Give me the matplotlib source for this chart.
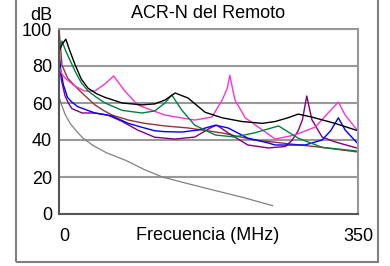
import matplotlib
matplotlib.use('Agg')
import matplotlib.pyplot as plt
from matplotlib.patches import Rectangle

plt.rcParams['font.family'] = ['Liberation Sans', 'DejaVu Sans']

# Datos (frecuencia en MHz, ACR-N en dB)
f_negro = [1, 4, 8, 12, 19, 26, 34, 44, 54, 74, 97, 112, 124, 136, 151, 171, 191, 214, 238, 253, 268, 280, 296,
           323, 350]
db_negro = [89, 92, 94.5, 89, 80.5, 73, 68, 65, 63, 60, 59, 59.5, 61.6, 65.4, 62.7, 55, 52, 50, 49, 50, 52, 54,
            52.4, 49, 45]

f_verde = [0, 3.5, 8, 19, 26, 34, 44, 54, 74, 97, 112, 124, 132, 144, 159, 183, 206, 230, 257, 280, 308, 350]
db_verde = [88, 93.5, 88, 77, 71, 66.5, 63, 60, 56, 54.6, 55.7, 60, 64.3, 56, 48, 42.7, 41.6, 44, 47.6, 41, 36, 34]

f_rosa = [0, 3, 7, 19, 30, 42, 53, 64, 77, 92, 112, 124, 136, 159, 179, 191, 197, 200, 203, 206, 218, 241, 253,
          276, 300, 315, 327, 335, 347, 350]
db_rosa = [80, 76, 73.5, 69, 66.5, 66.5, 70, 74.6, 66.5, 59, 55.5, 53.5, 52.5, 50.8, 52.4, 61.6, 68, 75, 68, 61.6,
           52, 44.5, 40.5, 42.7, 47, 54.6, 60.5, 53.5, 46.5, 45]

f_azul = [0, 2, 5, 10, 15, 22, 42, 62, 81, 100, 112, 124, 144, 163, 183, 198, 221, 245, 253, 288, 308, 318, 327,
          335, 349]
db_azul = [88, 78, 70, 63, 60.5, 58, 54.6, 53, 49, 46.5, 45, 44.5, 44.3, 45.4, 48, 46.5, 41, 38.4, 37.3, 37.3, 40,
           45, 52, 45.4, 38.4]

f_morado = [0, 3, 7, 11, 15, 27, 42, 57, 74, 92, 112, 136, 159, 179, 185, 198, 221, 245, 265, 273, 280, 285, 290,
            296, 308, 323, 350]
db_morado = [82, 72, 64, 60, 57, 54.6, 54.6, 53.5, 50, 45.4, 41.5, 40.5, 41.6, 47, 48, 43.8, 37.3, 35.7, 36.5, 40,
             45, 51, 63.8, 51, 41.6, 39, 35.5]

f_cafe = [0, 3.5, 10, 18, 27, 42, 52, 62, 81, 100, 124, 151, 191, 229, 268, 308, 350]
db_cafe = [100, 80.5, 73.5, 69.5, 65.4, 59, 56, 53.5, 50.8, 49, 47.6, 46.5, 43.8, 40, 38, 36, 33.5]

f_gris = [1, 3, 7, 13, 20, 28, 40, 56, 78, 100, 121, 150, 180, 215, 250]
db_gris = [62, 59, 54, 49, 45, 41, 37, 33, 29, 24, 20, 16.5, 13, 9, 4.5]

fig = plt.figure(figsize=(3.9, 2.66), dpi=100)
ax = fig.add_axes([59 / 390, 52 / 266, 299 / 390, 185 / 266])

# marco exterior
fig.patches.append(Rectangle((16 / 390, 4 / 266), 362 / 390, 0.99, transform=fig.transFigure,
                             fill=False, edgecolor='#808080', linewidth=1.5))

ax.plot(f_gris, db_gris, color='#808080', linewidth=0.9)
ax.plot(f_cafe, db_cafe, color='#993333', linewidth=1)
ax.plot(f_morado, db_morado, color='#800080', linewidth=1)
ax.plot(f_azul, db_azul, color='#0000FF', linewidth=1)
ax.plot(f_rosa, db_rosa, color='#FF33CC', linewidth=1)
ax.plot(f_verde, db_verde, color='#008040', linewidth=1)
ax.plot(f_negro, db_negro, color='black', linewidth=1)

ax.set_xlim(0, 350)
ax.set_ylim(0, 100)
ax.set_yticks([0, 20, 40, 60, 80, 100])
ax.set_yticklabels(['0', '20', '40', '60', '80', '100'], fontsize=13)
ax.set_xticks([0, 350])
ax.set_xticklabels(['0', '350'], fontsize=13)
ax.get_xticklabels()[0].set_horizontalalignment('left')
ax.tick_params(length=0, pad=5)
ax.tick_params(axis='x', pad=10)
ax.yaxis.grid(True, color='#999999', linewidth=1.5)
ax.set_axisbelow(True)

for s in ['top', 'right']:
    ax.spines[s].set_color('#999999')
    ax.spines[s].set_linewidth(1.5)
for s in ['left', 'bottom']:
    ax.spines[s].set_color('#555555')
    ax.spines[s].set_linewidth(1.5)

fig.text(208 / 390, 1 - 14 / 266, 'ACR-N del Remoto', ha='center', va='center', fontsize=13)
fig.text(41 / 390, 1 - 15 / 266, 'dB', ha='center', va='center', fontsize=13)
fig.text(208 / 390, 1 - 235 / 266, 'Frecuencia (MHz)', ha='center', va='center', fontsize=13)

fig.savefig('out.png', dpi=100)
